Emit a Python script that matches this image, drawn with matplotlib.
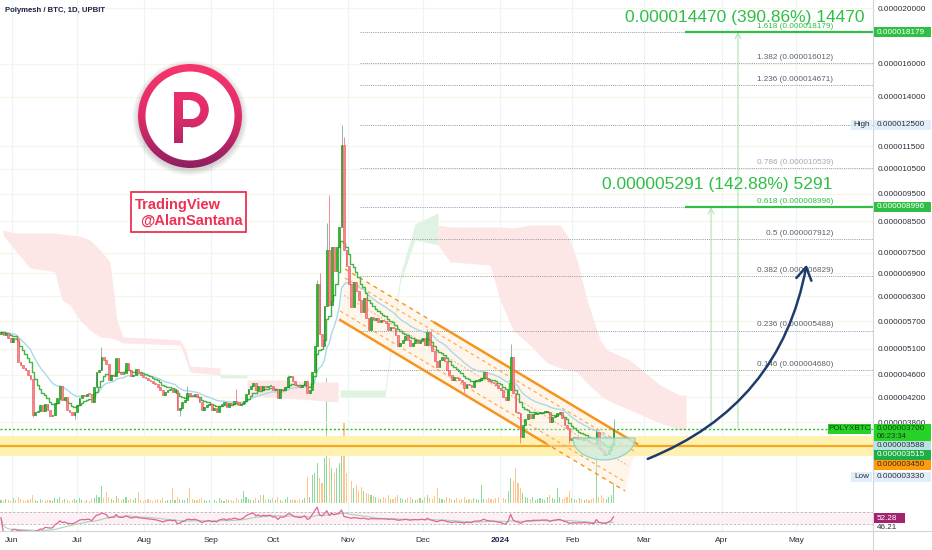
import numpy as np
import pandas as pd
import matplotlib
matplotlib.use("Agg")
import matplotlib.pyplot as plt
from matplotlib.patches import Rectangle, FancyArrowPatch, Wedge, Circle
from matplotlib.colors import LinearSegmentedColormap
from matplotlib.ticker import NullLocator

plt.rcParams["font.family"] = ["Liberation Sans", "DejaVu Sans"]

# canvas layout in pixels
W, H = 932, 550
PANE_R = 873     # right edge of the panes, price scale lives to the right
MAIN_B = 503     # bottom of the price pane
RSI_B = 531      # bottom of the RSI pane

# ---- POLYX/BTC daily bars, prices in 1e-9 BTC (3700 -> 0.000003700)
first_open = 5420
closes = [
    5460, 5390, 5430, 5330, 5240, 5330, 5300, 4840, 4780, 4720,
    4690, 4600, 4520, 3910, 3960, 3975, 4070, 3980, 4090, 3990,
    3900, 3910, 4100, 4190, 4390, 4155, 4200, 3990, 3960, 3910,
    3960, 4070, 4190, 4240, 4220, 4260, 4250, 4120, 4380, 4640,
    4690, 4940, 4880, 4800, 4500, 4590, 4570, 4920, 4650, 4610,
    4630, 4820, 4690, 4570, 4600, 4700, 4630, 4590, 4560, 4540,
    4500, 4480, 4450, 4430, 4380, 4320, 4240, 4290, 4320, 4340,
    4290, 4320, 3990, 4030, 4120, 4150, 4270, 4240, 4220, 4250,
    4200, 4120, 3990, 4040, 4070, 4090, 3990, 4020, 3960, 4060,
    4090, 4120, 4040, 4100, 4090, 4140, 4120, 4070, 4090, 4140,
    4260, 4340, 4400, 4450, 4320, 4400, 4320, 4400, 4370, 4400,
    4400, 4320, 4340, 4190, 4340, 4320, 4380, 4550, 4570, 4480,
    4410, 4400, 4370, 4410, 4480, 4270, 4320, 4640, 5160, 6620,
    5410, 5160, 6060, 7580, 6080, 7670, 6960, 7670, 8310, 11550,
    7580, 7100, 6610, 6040, 6670, 6420, 6200, 5910, 6250, 5770,
    5500, 5790, 5720, 5770, 5680, 5720, 5700, 5660, 5500, 5560,
    5540, 5390, 5160, 5220, 5280, 5370, 5280, 5160, 5220, 5280,
    5220, 5270, 5330, 5180, 5450, 5180, 5050, 4850, 4740, 4880,
    4940, 4850, 4690, 4590, 4500, 4560, 4540, 4500, 4460, 4350,
    4430, 4410, 4380, 4480, 4500, 4500, 4540, 4640, 4540, 4480,
    4460, 4450, 4410, 4350, 4320, 4200, 4150, 4320, 4940, 4270,
    3960, 3940, 3580, 3760, 3850, 3930, 3860, 3930, 3930, 3940,
    3940, 3960, 3960, 3960, 3800, 3880, 3900, 3940, 3960, 3860,
    3760, 3710, 3540, 3570, 3580, 3550, 3570, 3540, 3570, 3540,
    3510, 3490, 3480, 3650, 3430, 3400, 3330, 3340, 3400, 3470,
    3700,
]
wick_high = {7: 5330, 13: 4520, 41: 5140, 76: 4400, 96: 4340, 117: 4600,
             125: 4500, 129: 6720, 130: 6900, 133: 8450, 134: 9450,
             139: 12500, 140: 11920, 174: 5520, 208: 5200, 243: 3700, 250: 3850}
wick_low = {13: 3880, 30: 3850, 73: 3900, 189: 4240, 212: 3500, 232: 3500, 247: 3330}
volume = [
    3, 2, 4, 3, 2, 5, 3, 6, 4, 3,
    2, 3, 4, 8, 3, 2, 4, 3, 2, 3,
    3, 2, 5, 4, 6, 3, 4, 3, 2, 3,
    4, 3, 5, 3, 2, 3, 2, 4, 5, 8,
    6, 17, 5, 11, 6, 4, 3, 7, 5, 3,
    4, 6, 3, 4, 3, 5, 11, 3, 2, 3,
    4, 3, 2, 3, 4, 3, 5, 2, 3, 3,
    15, 3, 6, 4, 3, 3, 5, 15, 4, 3,
    3, 4, 5, 3, 2, 3, 4, 3, 2, 5,
    3, 2, 4, 3, 3, 2, 5, 3, 4, 12,
    6, 4, 3, 3, 5, 3, 8, 8, 3, 4,
    3, 5, 3, 6, 3, 2, 4, 6, 3, 4,
    3, 2, 4, 3, 5, 26, 6, 28, 30, 40,
    25, 20, 45, 125, 45, 35, 30, 35, 40, 50,
    81, 30, 25, 22, 15, 18, 12, 16, 12, 10,
    9, 8, 7, 6, 5, 4, 6, 5, 8, 4,
    4, 6, 8, 5, 4, 3, 5, 6, 4, 3,
    4, 5, 3, 6, 8, 5, 4, 7, 15, 5,
    4, 3, 6, 5, 4, 3, 5, 3, 4, 6,
    3, 4, 3, 5, 4, 3, 18, 4, 3, 5,
    4, 3, 5, 6, 8, 5, 4, 12, 25, 22,
    35, 20, 15, 10, 6, 5, 4, 6, 3, 4,
    5, 4, 3, 6, 8, 5, 4, 15, 6, 4,
    5, 6, 12, 5, 4, 3, 5, 4, 3, 4,
    3, 4, 5, 50, 6, 8, 5, 4, 6, 8,
    20,
]

# time scale (bar index of each month label)
month_pos = [4.5, 31.0, 58.4, 85.7, 111.0, 141.6, 172.2, 203.7, 233.1, 262.4, 294.3, 324.5]
month_lbl = ["Jun", "Jul", "Aug", "Sep", "Oct", "Nov", "Dec", "2024", "Feb", "Mar", "Apr", "May"]
axis_prices = [20000, 16000, 14000, 11500, 10500, 9500, 8500, 7500, 6900,
               6300, 5700, 5100, 4600, 4200, 3800]

# Ichimoku cloud: (bars, upper, lower, bullish?)
cloud_pieces = [
    ([0.8, 5.7, 11.8, 18, 22, 24.9, 28.2, 32.2, 36.3, 40.4, 44.5, 47.3, 49.8, 60.8, 73.1, 75.5, 77.1, 89.4],
     [8212, 8114, 8114, 8114, 8114, 8082, 8050, 8018, 7890, 7584, 7224, 5724, 5346, 5325, 5283, 5076, 4760, 4722],
     [8050, 7584, 7052, 6994, 6940, 6202, 6079, 5724, 5500, 5346, 5325, 5283, 5220, 5200, 5178, 4876, 4647, 4592],
     False),
    ([89.4, 100.4], [4610, 4592], [4537, 4537], True),
    ([100.4, 113.9, 127.3, 137.6], [4500, 4500, 4464, 4464], [4238, 4188, 4154, 4121], False),
    ([138.4, 156.7, 162.9, 169, 178.4], [4324, 4324, 6855, 8420, 8792], [4204, 4204, 6632, 7890, 7733], True),
    ([178.4, 183.3, 199.6, 203.7, 209, 215.9, 222.9, 228.2, 232.2, 235.1, 239.2, 244.5, 247.3, 256.7, 269, 277.1, 279.6],
     [8378, 8312, 8312, 8312, 8279, 8378, 8378, 8378, 7890, 7282, 6202, 5283, 5076, 4876, 4411, 4238, 4238],
     [7733, 7224, 7138, 6202, 5500, 5178, 4818, 4722, 4685, 4647, 4447, 4238, 4154, 3991, 3788, 3683, 3683],
     False),
]

# drawing tools
fib_ratio = ["1.618", "1.382", "1.236", "1", "0.786", "0.618", "0.5", "0.382", "0.236", "0.146"]
fib_price = [18179, 16012, 14671, 12500, 10539, 8996, 7912, 6829, 5488, 4680]
fib_start = 146.5
target_price = [18179, 8996]
target_start = 279.2
measure_bars = [300.8, 289.8]
measure_base = 3700
chan_top = [(140.4, 7024), (259.6, 3482)]
chan_bot = [(138.4, 5724), (254.7, 2884)]
top_solid_from, bot_solid_to = 177.1, 222.0
support_band = (3315, 3595)
support_line = 3450
last_price = 3700
cup = dict(center=246.1, half=12.7, top=3566, bottom=3266)
arrow_from, arrow_to = (262.9, 3266), (329.0, 7224)

XMIN, XMAX = -0.41, 355.9
GREEN, UP, DOWN = "#2fbf45", "#1fc21f", "#f7868b"


def frac_box(x0, y0, x1, y1):
    return [x0 / W, 1 - y1 / H, (x1 - x0) / W, (y1 - y0) / H]


def on_line(line, b):
    (b0, p0), (b1, p1) = line
    t = (b - b0) / (b1 - b0)
    return float(np.exp(np.log(p0) + t * (np.log(p1) - np.log(p0))))


fig = plt.figure(figsize=(W / 100, H / 100), dpi=100)
fig.patch.set_facecolor("white")
ax_vol = fig.add_axes(frac_box(0, 363, PANE_R, MAIN_B), zorder=1)
ax = fig.add_axes(frac_box(0, 0, PANE_R, MAIN_B), zorder=2)
ax_rsi = fig.add_axes(frac_box(0, MAIN_B, PANE_R, RSI_B), zorder=2)
ov = fig.add_axes([0, 0, 1, 1], zorder=5)

bars = np.arange(len(closes))
c = np.array(closes, dtype=float)
o = np.array([first_open] + closes[:-1], dtype=float)
hi = np.maximum(o, c)
lo = np.minimum(o, c)
for k, v in wick_high.items():
    hi[k] = max(hi[k], v)
for k, v in wick_low.items():
    lo[k] = min(lo[k], v)
up = c >= o

# ---- volume overlay
ax_vol.bar(bars, volume, width=0.45, color=np.where(up, "#8fd99a", "#ffc58a"), lw=0)
ax_vol.set_xlim(XMIN, XMAX)
ax_vol.set_ylim(0, 140)
ax_vol.axis("off")

# ---- price pane
ax.set_facecolor("none")
ax.set_yscale("log")
ax.set_xlim(XMIN, XMAX)
ax.set_ylim(2748, 20652)
for m in month_pos:
    ax.axvline(m, color="#e9f5f7", lw=0.8, zorder=0)
for p in axis_prices:
    ax.axhline(p, color="#f6f5e8", lw=0.8, zorder=0)

for xs, top, bot, bull in cloud_pieces:
    ax.fill_between(xs, bot, top, color="#e0f3e3" if bull else "#fde6e6", lw=0, zorder=1)

ax.axhspan(*support_band, color="#fff2b0", lw=0, zorder=1.2)
ax.axhline(support_line, color="#f6a623", lw=1.6, zorder=1.3)
ax.axhline(last_price, color="#22c322", lw=1.0, ls=(0, (1.5, 1.5)), zorder=1.3)

# descending channel
b_t0, b_t1 = chan_top[0][0], chan_top[1][0]
b_b0, b_b1 = chan_bot[0][0], chan_bot[1][0]
ax.fill([b_t0, b_t1, b_b1, b_b0],
        [chan_top[0][1], chan_top[1][1], chan_bot[1][1], chan_bot[0][1]],
        color="#ffe6c8", alpha=0.35, lw=0, zorder=1.5)
ORANGE = "#f7941d"
ax.plot([b_t0, top_solid_from], [on_line(chan_top, b_t0), on_line(chan_top, top_solid_from)],
        color=ORANGE, lw=1.0, ls=(0, (3, 3)), zorder=2)
ax.plot([top_solid_from, b_t1], [on_line(chan_top, top_solid_from), on_line(chan_top, b_t1)],
        color=ORANGE, lw=1.8, zorder=2)
ax.plot([b_b0, bot_solid_to], [on_line(chan_bot, b_b0), on_line(chan_bot, bot_solid_to)],
        color=ORANGE, lw=1.8, zorder=2)
ax.plot([bot_solid_to, b_b1], [on_line(chan_bot, bot_solid_to), on_line(chan_bot, b_b1)],
        color=ORANGE, lw=1.0, ls=(0, (3, 3)), zorder=2)
k_in = np.exp(9 / 249.4)
ax.plot([b_t0, b_t1], [on_line(chan_top, b_t0) / k_in, on_line(chan_top, b_t1) / k_in],
        color="#f9a64a", lw=0.8, ls=(0, (3, 3)), zorder=2)
ax.plot([b_b0, b_b1], [on_line(chan_bot, b_b0) * k_in, on_line(chan_bot, b_b1) * k_in],
        color="#f9a64a", lw=0.8, ls=(0, (3, 3)), zorder=2)
mid0, mid1 = 140.0, 256.0
ax.plot([mid0, mid1],
        [np.sqrt(on_line(chan_top, mid0) * on_line(chan_bot, mid0)),
         np.sqrt(on_line(chan_top, mid1) * on_line(chan_bot, mid1))],
        color="#f4a88a", lw=0.7, ls=(0, (2, 2)), zorder=2)

# fib levels
ax.hlines(fib_price, fib_start, XMAX, colors="#9598a1", lw=0.7, ls=(0, (1, 1.2)), zorder=2)
for r, p in zip(fib_ratio, fib_price):
    if r == "1":
        continue
    col = GREEN if r in ("1.618", "0.618") else ("#a5a8b0" if r == "0.786" else "#5d606b")
    ax.annotate(f"{r} ({p * 1e-9:.9f})", xy=(339.6, p), xytext=(0, 1.5),
                textcoords="offset points", ha="right", va="bottom",
                fontsize=5.9, color=col, zorder=6)

# price-range measurements
ax.hlines(target_price, target_start, XMAX, colors=GREEN, lw=1.6, zorder=6, clip_on=False)
for b, p in zip(measure_bars, target_price):
    ax.annotate("", xy=(b, p), xytext=(b, measure_base),
                arrowprops=dict(arrowstyle="->", color="#b3e3b5", lw=0.8,
                                shrinkA=0, shrinkB=0), zorder=3)
ax.text(254.7, 19290, "0.000014470 (390.86%) 14470", color=GREEN, fontsize=12.5,
        va="center", ha="left", zorder=7, clip_on=False)
ax.text(245.3, 9836, "0.000005291 (142.88%) 5291", color=GREEN, fontsize=12.5,
        va="center", ha="left", zorder=7)

# moving averages derived from the closes
fast = pd.Series(c).ewm(span=9, adjust=False).mean()
slow = pd.Series(c).ewm(span=21, adjust=False).mean()
ax.plot(bars, slow, color="#a9d9e8", lw=1.0, zorder=3)
ax.plot(bars, fast, color="#43b649", lw=1.0, zorder=3.2, drawstyle="steps-mid")

# candles
body_lo = np.minimum(o, c)
body_h = np.maximum(np.abs(c - o), body_lo * 0.004)
ax.vlines(bars, lo, hi, colors=np.where(up, "#8fb6a8", "#f48a90"), lw=0.7, zorder=4)
ax.bar(bars, body_h, bottom=body_lo, width=0.72,
       color=np.where(up, UP, DOWN), edgecolor=np.where(up, "#1b7d1b", "#ea4d57"),
       lw=0.4, zorder=5)

# cup under the lows
th = np.linspace(np.pi, 2 * np.pi, 60)
cup_x = cup["center"] + cup["half"] * np.cos(th)
cup_y = np.exp(np.log(cup["top"]) + (np.log(cup["bottom"]) - np.log(cup["top"])) * (-np.sin(th)))
ax.fill(cup_x, cup_y, facecolor="#cdeee0", edgecolor="#87cfc3", lw=1.0, alpha=0.8, zorder=5.5)

arrow = FancyArrowPatch(arrow_from, arrow_to, connectionstyle="arc3,rad=0.28",
                        arrowstyle="->,head_length=0.9,head_width=0.55", mutation_scale=10,
                        color="#1f3b6b", lw=1.8, zorder=7)
ax.add_patch(arrow)

ax.yaxis.tick_right()
ax.set_yticks(axis_prices)
ax.set_yticklabels([f"{p * 1e-9:.9f}" for p in axis_prices])
ax.yaxis.set_minor_locator(NullLocator())
ax.tick_params(axis="y", length=0, pad=3.5, labelsize=5.9, labelcolor="#2a2e39")
ax.set_xticks([])
for s in ax.spines.values():
    s.set_visible(False)

# ---- RSI pane
delta = pd.Series(c).diff()
gain = delta.clip(lower=0).ewm(alpha=1 / 14, adjust=False).mean()
loss = (-delta.clip(upper=0)).ewm(alpha=1 / 14, adjust=False).mean()
rsi = 100 - 100 / (1 + gain / loss.replace(0, np.nan))
rsi = rsi.fillna(50)
rsi_ma = rsi.rolling(14, min_periods=1).mean()
ax_rsi.set_xlim(XMIN, XMAX)
ax_rsi.set_ylim(6.67, 100)
ax_rsi.axhspan(30, 70, color="#fdf0f5", lw=0)
ax_rsi.axhline(30, color="#b5b5b5", lw=0.6, ls=(0, (3, 2)))
ax_rsi.axhline(70, color="#b5b5b5", lw=0.6, ls=(0, (3, 2)))
ax_rsi.plot(bars, rsi_ma, color="#a8d8a8", lw=0.8)
ax_rsi.plot(bars, rsi, color="#e0649b", lw=0.9)
for m in month_pos:
    ax_rsi.axvline(m, color="#e9f5f7", lw=0.8, zorder=0)
ax_rsi.set_yticks([])
ax_rsi.set_xticks(month_pos)
ax_rsi.set_xticklabels(month_lbl)
ax_rsi.tick_params(axis="x", length=0, pad=4.5, labelsize=6, labelcolor="#2a2e39")
for t in ax_rsi.get_xticklabels():
    if t.get_text() == "2024":
        t.set_fontweight("bold")
        t.set_color("#1c2450")
for s in ax_rsi.spines.values():
    s.set_visible(False)

# ---- overlay in pixel coordinates: frames, labels, watermark
ov.set_xlim(0, W)
ov.set_ylim(H, 0)
ov.axis("off")
ov.set_facecolor("none")
ov.plot([PANE_R, PANE_R], [0, H], color="#d1d4dc", lw=0.8)
ov.plot([0, W], [RSI_B, RSI_B], color="#d1d4dc", lw=0.8)

ov.text(5, 10, "Polymesh / BTC, 1D, UPBIT", fontsize=5.6, fontweight="bold",
        color="#1c2145", va="center", ha="left")


def tag(x0, x1, yc, text, fc, tc, h=10.5, fs=5.9, ha="left"):
    ov.add_patch(Rectangle((x0, yc - h / 2), x1 - x0, h, fc=fc, ec="none", zorder=6))
    tx = x0 + 3 if ha == "left" else (x0 + x1) / 2
    ov.text(tx, yc, text, fontsize=fs, color=tc, va="center", ha=ha, zorder=7)


tag(874, 931, 32, "0.000018179", GREEN, "white")
tag(851, 872, 125, "High", "#e1eef9", "#2a2e39", ha="center")
tag(874, 931, 125, "0.000012500", "#e1eef9", "#2a2e39")
tag(874, 931, 207, "0.000008996", GREEN, "white")
tag(828, 871, 429, "POLYXBTC", "#27d227", "#174017", ha="center")
ov.add_patch(Rectangle((874, 424), 57, 17, fc="#27d227", ec="none", zorder=6))
ov.text(877, 428.5, "0.000003700", fontsize=5.9, color="#174017", va="center", zorder=7)
ov.text(877, 436.5, "06:23:34", fontsize=5.6, color="#174017", va="center", zorder=7)
tag(874, 931, 445.5, "0.000003588", "#b9e3e0", "#2a2e39", h=9)
tag(874, 931, 455, "0.000003515", "#1fae45", "white", h=10)
tag(874, 931, 465, "0.000003450", "#ff9b0f", "#3a2a10", h=10)
tag(851, 872, 477, "Low", "#e1eef9", "#2a2e39", ha="center")
tag(874, 931, 477, "0.000003330", "#e1eef9", "#2a2e39")
tag(874, 905, 518, "52.28", "#a3246e", "white", h=10)
ov.text(877, 527.5, "46.21", fontsize=5.9, color="#2a2e39", va="center", zorder=7)

# watermark box
ov.add_patch(Rectangle((131, 192), 115, 40, fc="white", ec="#ee3253", lw=1.3, zorder=6))
ov.text(135, 205, "TradingView", fontsize=10.5, fontweight="bold", color="#ee3253",
        va="center", ha="left", zorder=7)
ov.text(243, 221, "@AlanSantana", fontsize=10.5, fontweight="bold", color="#ee3253",
        va="center", ha="right", zorder=7)

# Polymesh logo: gradient ring and P
cx, cy, r_out = 190, 116, 52
for k in range(14):
    ov.add_patch(Circle((cx, cy + 2), r_out + 6 - k * 0.45, fc="#000000", alpha=0.012, ec="none", zorder=5))
ov.add_patch(Circle((cx, cy), r_out, fc="white", ec="none", zorder=5.5))
cmap = LinearSegmentedColormap.from_list("polyx", ["#f7356c", "#e02c6a", "#8e1f60"])
grad = np.linspace(0, 1, 256).reshape(-1, 1)
shapes = [
    Wedge((cx, cy), r_out, 0, 360, width=7.5),
    Rectangle((174, 92), 9, 51),
    Rectangle((174, 92), 18, 8.5),
    Rectangle((174, 119), 18, 8.5),
    Wedge((191, 109.8), 17.8, -90, 90, width=8.5),
]
for shp in shapes:
    shp.set_facecolor("none")
    shp.set_edgecolor("none")
    ov.add_patch(shp)
    im = ov.imshow(grad, cmap=cmap, extent=(cx - r_out, cx + r_out, cy + r_out, cy - r_out),
                   aspect="auto", zorder=6, interpolation="bilinear")
    im.set_clip_path(shp)
ov.set_xlim(0, W)
ov.set_ylim(H, 0)

fig.savefig("out.png", dpi=100, facecolor="white")
